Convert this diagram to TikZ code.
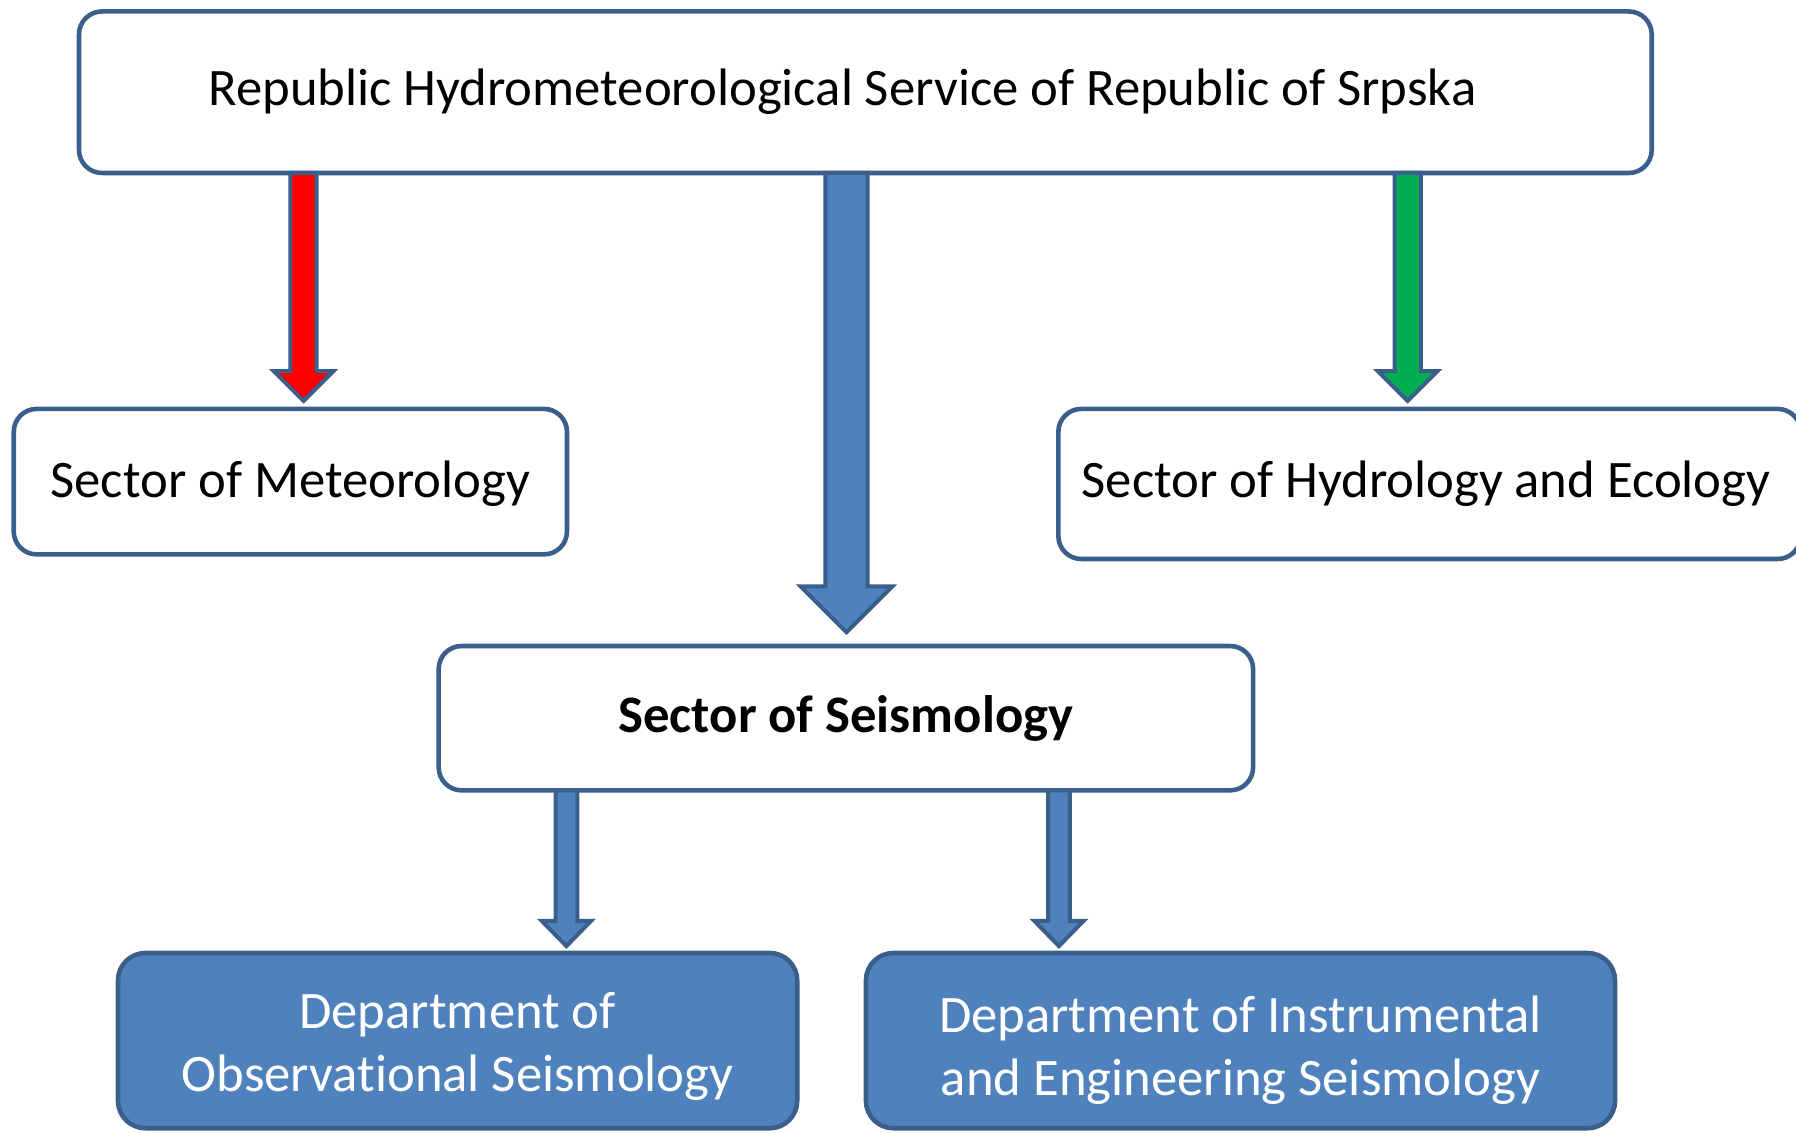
\documentclass[tikz,border=0pt]{standalone}
\usepackage{fontspec}
\setmainfont{Carlito}[Ligatures=NoCommon]
\usetikzlibrary{calc}
\definecolor{bordc}{HTML}{3A5F8B}
\definecolor{deptc}{HTML}{4F81BD}
\definecolor{redc}{HTML}{FF0000}
\definecolor{greenc}{HTML}{00B050}
\newcommand\fsz{\fontsize{46bp}{55bp}\selectfont}
\newcommand\lowered[2]{\raisebox{#1}[\height][\depth]{#2}}
\newcommand\twolines[3]{\lowered{#1}{\begin{tabular}{@{}c@{}}#2\\#3\end{tabular}}}
% #1 fill, #2 x coordinate, #3 source node, #4 target node, #5 half shaft, #6 half head, #7 head length, #8 gap
\newcommand\blockarrow[8]{%
  \path let \p1=(#2 |- #3.south), \p2=(#2 |- #4.north) in
    [draw=bordc, line width=3.5bp, line join=miter, fill=#1]
    (\x1-#5,\y1) -- (\x1-#5,\y2+#8+#7) -- (\x1-#6,\y2+#8+#7) -- (\x1,\y2+#8)
    -- (\x1+#6,\y2+#8+#7) -- (\x1+#5,\y2+#8+#7) -- (\x1+#5,\y1) -- cycle;}
\tikzset{
  box/.style={draw=bordc, line width=4bp, rounded corners=20bp, fill=white,
    inner sep=0pt, outer sep=0pt, align=center, font=\fsz},
  deptbox/.style={box, fill=deptc, text=white, rounded corners=24bp}
}
\begin{document}
\begin{tikzpicture}[x=1bp,y=-1bp]
\useasboundingbox (0,0) rectangle (1568,989);
\node[box, minimum width=1373bp, minimum height=141bp] (top) at (755.5,80.5)
  {Republic Hydrometeorological Service of Republic of Srpska\hspace*{40bp}};
\node[box, minimum width=483bp, minimum height=127bp] (met) at (253.5,420.5)
  {\lowered{-2bp}{Sector of Meteorology}};
\node[box, minimum width=648bp, minimum height=131bp] (hyd) at (1248,422.5)
  {Sector of Hydrology and Ecology\hspace*{6bp}};
\node[box, minimum width=711bp, minimum height=126bp, font=\fsz\bfseries] (seis) at (738.5,627)
  {Sector of Seismology};
\node[deptbox, minimum width=593bp, minimum height=153bp] (obs) at (399.5,908.5)
  {\twolines{-6bp}{Department of}{Observational Seismology}};
\node[deptbox, minimum width=654bp, minimum height=153bp] (ins) at (1083,908.5)
  {\twolines{-9bp}{Department of Instrumental}{and Engineering Seismology}};
\coordinate (xr) at (265,0);
\coordinate (xb) at (739,0);
\coordinate (xg) at (1229,0);
\coordinate (xl) at (494.5,0);
\coordinate (xi) at (924.5,0);
\blockarrow{redc}{xr}{top}{met}{11.5bp}{26bp}{26bp}{7bp}
\blockarrow{deptc}{xb}{top}{seis}{18.5bp}{40bp}{40bp}{12bp}
\blockarrow{greenc}{xg}{top}{hyd}{11.5bp}{26bp}{26bp}{7bp}
\blockarrow{deptc}{xl}{seis}{obs}{9.5bp}{21.5bp}{22bp}{6bp}
\blockarrow{deptc}{xi}{seis}{ins}{9.5bp}{21.5bp}{22bp}{6bp}
\end{tikzpicture}
\end{document}
